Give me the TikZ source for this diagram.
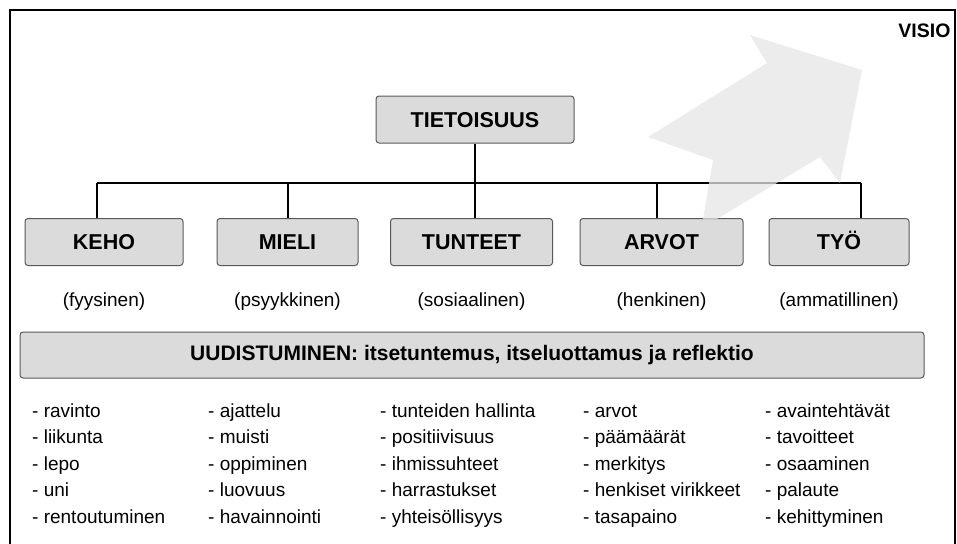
\documentclass[tikz,border=0pt]{standalone}
\usepackage{fontspec}
\setmainfont{Liberation Sans}
\usetikzlibrary{positioning}

\begin{document}
\begin{tikzpicture}[x=1pt, y=-1pt,
  box/.style={draw=black!65, fill=black!14, rounded corners=3pt, line width=1pt,
    minimum width=#1, minimum height=47pt, inner sep=0pt,
    text height=15.2pt, text depth=0pt,
    font=\fontsize{21.5}{25}\selectfont\bfseries},
  sub/.style={text height=14pt, text depth=4pt, font=\fontsize{19}{22}\selectfont},
  list/.style={anchor=base west, align=left, inner sep=0pt,
    font=\fontsize{19}{26.5}\selectfont},
  link/.style={line width=1.2pt}
]
  \useasboundingbox (0,0) rectangle (957,543);

  % Frame
  \draw[line width=2.5pt] (10,545) -- (10,10) -- (955,10) -- (955,545);
  \node[anchor=east, font=\fontsize{19.5}{22}\selectfont\bfseries] (visio) at (954,31) {VISIO};

  % Top
  \node[box=198pt] (tieto) at (475,119.5) {TIETOISUUS};

  % Dimensions
  \node[box=158pt] (keho) at (104,242) {KEHO};
  \node[box=141pt] (mieli) at (287.5,242) {MIELI};
  \node[box=162pt] (tunteet) at (471.5,242) {TUNTEET};
  \node[box=163pt] (arvot) at (661.5,242) {ARVOT};
  \node[box=140pt] (tyo) at (839,242) {TYÖ};

  \node[sub, below=23pt of keho] (keho-s) {(fyysinen)};
  \node[sub, below=23pt of mieli] (mieli-s) {(psyykkinen)};
  \node[sub, below=23pt of tunteet] (tunteet-s) {(sosiaalinen)};
  \node[sub, below=23pt of arvot] (arvot-s) {(henkinen)};
  \node[sub, below=23pt of tyo] (tyo-s) {(ammatillinen)};

  % Renewal
  \node[box=904pt, minimum height=46pt, text depth=4pt,
    font=\fontsize{21}{25}\selectfont\bfseries] (uud) at (472,355)
    {UUDISTUMINEN: itsetuntemus, itseluottamus ja reflektio};

  % Lists (anchored at the last line)
  \node[list] (keho-l) at (32,523) {- ravinto\\- liikunta\\- lepo\\- uni\\- rentoutuminen};
  \node[list] (mieli-l) at (208,523) {- ajattelu\\- muisti\\- oppiminen\\- luovuus\\- havainnointi};
  \node[list] (tunteet-l) at (380,523) {- tunteiden hallinta\\- positiivisuus\\- ihmissuhteet\\- harrastukset\\- yhteisöllisyys};
  \node[list] (arvot-l) at (583,523) {- arvot\\- päämäärät\\- merkitys\\- henkiset virikkeet\\- tasapaino};
  \node[list] (tyo-l) at (765,523) {- avaintehtävät\\- tavoitteet\\- osaaminen\\- palaute\\- kehittyminen};

  % Tree
  \coordinate (busl) at (97,183);
  \coordinate (busr) at (861,183);
  \coordinate (bm) at (288,183);
  \coordinate (bt) at (475,183);
  \coordinate (ba) at (657,183);
  \draw[link] (busl) -- (busr);
  \draw[link] (tieto.south) -- (tieto.south |- bt);
  \draw[link] (busl) -- (busl |- keho.north);
  \draw[link] (bm) -- (bm |- mieli.north);
  \draw[link] (bt) -- (bt |- tunteet.north);
  \draw[link] (ba) -- (ba |- arvot.north);
  \draw[link] (busr) -- (busr |- tyo.north);

  % Vision arrow
  \fill[black!10, fill opacity=0.75]
    (750,35) -- (862,70) -- (840,183) -- (820,157) -- (717,219)
    -- (703,219) -- (713,160) -- (648,137) -- (767,63) -- cycle;
\end{tikzpicture}
\end{document}
